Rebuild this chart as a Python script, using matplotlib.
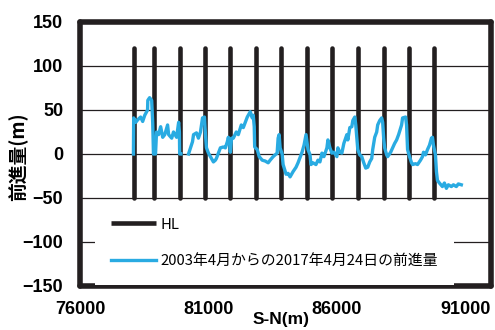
import matplotlib.pyplot as plt

nan = float('nan')

# HL survey lines (S-N position, m)
hl_x = [78100, 78870, 79880, 80880, 81850, 82860, 83830, 84840,
        85810, 86810, 87820, 88790, 89800]
hl_bottom = -50
hl_top = 120

# advance from Apr 2003 to 24 Apr 2017 (m)
front_x = [78080, 78090, 78170, 78250, 78360, 78440, 78520, 78630, 78640, 78710,
           78790, 78830, 78860, 78940, 78980, 79060, 79140, 79220, 79300, 79410,
           79450, 79570, 79640, 79760, 79840, 79870, 79880, 79930, nan,
           80225, 80380, 80420, 80535, 80610, 80690, 80770, 80845, 80884, 80923,
           81000, 81078, 81155, 81194, 81271, 81310, 81465, 81581, 81659, 81736,
           81775, 81830, 81853, 81900, 81969, 82085, 82163, 82279, 82357, 82434,
           82512, 82551, 82628, 82705, 82744, 82783, 82800, 82899, 82977, 83093,
           83209, 83326, 83403, 83519, 83674, 83713, 83752, 83791, 83868, 83907,
           84023, 84101, 84178, 84295, 84411, 84488, 84566, 84643, 84721, 84799,
           84876, 84954, 84992, 85070, 85186, 85264, 85341, 85419, 85496, 85612,
           85651, 85729, 85806, 85884, 86000, 86039, 86116, 86194, 86271, 86388,
           86426, 86504, 86581, 86620, 86698, 86736, 86814, 86891, 86969, 87047,
           87124, 87202, 87279, 87357, 87395, 87473, 87550, 87589, 87667, 87744,
           87783, 87822, 87860, 87938, 87977, 88093, 88171, 88248, 88326, 88403,
           88519, 88558, 88674, 88713, 88752, 88829, 88907, 88946, 89062, 89140,
           89256, 89333, 89372, 89450, 89527, 89605, 89682, 89721, 89760, 89837,
           89876, 89915, 89992, 90108, 90186, 90264, 90341, 90457, 90535, 90651,
           90728, 90845]
front_y = [0, 41, 36, 39, 42, 37, 44, 50, 61, 64,
           61, 36, 0, 0, 25, 22, 31, 19, 22, 33,
           22, 18, 25, 19, 36, 25, 0, 0, nan,
           0, 14, 22, 24, 18, 25, 41, 42, 22, 7,
           1, -3, -7, -9, -7, -5, 7, 8, 7, 14,
           19, 10, 2, 18, 18, 25, 22, 33, 30, 36,
           42, 44, 48, 41, 44, 31, 8, 5, -3, -7,
           -8, -10, -7, -3, 1, 18, 22, 7, 0, -12,
           -23, -22, -26, -20, -15, -10, -4, 2, 10, 22,
           5, -1, -12, -10, -12, -7, -9, 1, -3, 7,
           16, 7, 1, 2, -3, 7, 2, 1, 12, 22,
           16, 30, 31, 38, 42, 33, 5, -1, -3, -10,
           -16, -15, -9, -5, 5, 19, 25, 33, 38, 41,
           36, 18, 7, -1, -3, 2, 7, 12, 16, 22,
           33, 41, 42, 33, 5, -3, -10, -12, -11, -12,
           -7, -3, 2, -1, 5, 10, 18, 19, 10, -1,
           -20, -30, -33, -37, -33, -39, -35, -37, -35, -37,
           -34, -35]

x_ticks = [76000, 81000, 86000, 91000]
y_ticks = [-150, -100, -50, 0, 50, 100, 150]

dark = '#231f20'
blue = '#29abe2'

fig = plt.figure(figsize=(4.95, 3.3), dpi=100)
ax = fig.add_axes([80 / 495, 1 - 286 / 330, 411 / 495, 264 / 330])

ax.vlines(hl_x, hl_bottom, hl_top, colors=dark, linewidth=3.3,
          capstyle='round', label='HL', zorder=3)
ax.plot(front_x, front_y, color=blue, linewidth=2.4,
        label='2003年4月からの2017年4月24日の前進量', zorder=4)

ax.set_xlim(76000, 92000)
ax.set_ylim(-150, 150)
ax.set_xticks(x_ticks)
ax.set_yticks(y_ticks)
ax.tick_params(length=0, labelsize=13)
ax.tick_params(axis='y', pad=12)
ax.tick_params(axis='x', pad=11)
for lab in ax.get_xticklabels() + ax.get_yticklabels():
    lab.set_fontfamily('Liberation Sans')
    lab.set_fontweight('bold')

ax.grid(axis='y', color=dark, linewidth=0.9)
ax.set_axisbelow(True)
for sp in ax.spines.values():
    sp.set_linewidth(4)
    sp.set_color(dark)
    sp.set_capstyle('round')

ax.set_xlabel('S-N(m)', fontsize=12.5, fontweight='bold', family='Liberation Sans')
ax.xaxis.set_label_coords(0.489, -0.100)
ax.set_ylabel('前進量(m)', fontsize=13.5, fontweight='bold',
              family=['Noto Sans CJK JP', 'DejaVu Sans'])
ax.yaxis.set_label_coords(-0.125, 0.49)

leg = ax.legend(loc='lower left', bbox_to_anchor=(0.036, 0.004),
                prop={'family': ['Noto Sans CJK JP', 'DejaVu Sans'], 'size': 10.7},
                frameon=True, fancybox=False, facecolor='white', edgecolor='none',
                framealpha=1, borderpad=1.1, handlelength=3.0, handletextpad=0.3,
                labelspacing=1.55, borderaxespad=0)
leg.get_frame().set_linewidth(0)

fig.savefig('out.png', dpi=100)
